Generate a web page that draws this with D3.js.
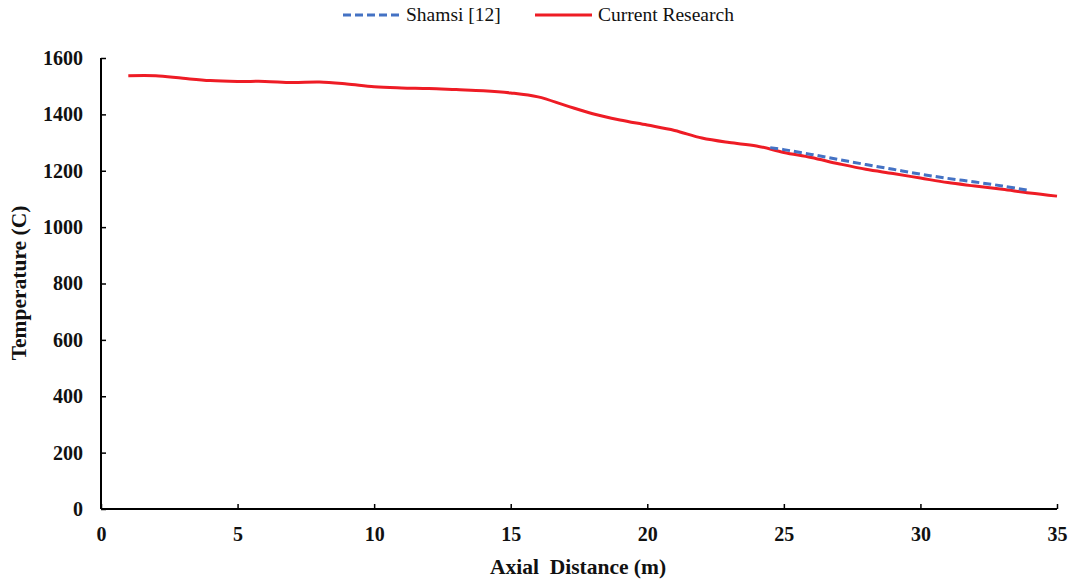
<!DOCTYPE html>
<html><head><meta charset="utf-8">
<script src="https://cdn.jsdelivr.net/npm/d3@7"></script>
<style>body{margin:0;background:#fff}svg{display:block}
svg text{font-family:"Liberation Serif","Times New Roman",serif;}</style>
</head><body>
<svg id="c" width="1071" height="580"></svg>
<script>
const currentX = [1,2,3,4,5,6,7,8,9,10,11,12,13,14,15,16,17,18,19,20,21,22,23,24,25,26,27,28,29,30,31,32,33,34,35];
const currentY = [1537,1537,1528,1520,1517,1517,1513,1515,1508,1498,1494,1492,1488,1484,1476,1462,1432,1402,1380,1362,1343,1316,1300,1288,1265,1247,1225,1205,1190,1174,1158,1146,1134,1121,1110];
const shamsiX = [24.5,25,26,27,28,29,30,31,32,33,34];
const shamsiY = [1282,1275,1258,1240,1222,1205,1188,1173,1160,1146,1130];
const xTicks = [0,5,10,15,20,25,30,35];
const yTicks = [0,200,400,600,800,1000,1200,1400,1600];
const seriesNames = ["Shamsi [12]","Current Research"];

const svg = d3.select("#c");
const font = "Liberation Serif";
const x = d3.scaleLinear().domain([0,35]).range([101,1057]);
const y = d3.scaleLinear().domain([0,1600]).range([509,58]);

const gx = svg.append("g").attr("transform","translate(0,509)")
  .call(d3.axisBottom(x).tickValues(xTicks).tickFormat(d3.format("d")).tickSize(-5).tickPadding(18));
const gy = svg.append("g").attr("transform","translate(101,0)")
  .call(d3.axisLeft(y).tickValues(yTicks).tickFormat(d3.format("d")).tickSize(-5).tickPadding(18));
[gx,gy].forEach(g=>{
  g.attr("font-family",null);
  g.select(".domain").attr("stroke","#000").attr("stroke-width",2);
  g.selectAll(".tick line").attr("stroke","#000").attr("stroke-width",1.5);
  g.selectAll("text").style("font-family",font).attr("font-weight","bold").attr("font-size",20).attr("fill","#111");
});
gx.select(".domain").attr("d","M101,0H1057");
gy.select(".domain").attr("d","M0,509V58");
gy.selectAll(".tick line").attr("x2",5);
gx.selectAll(".tick line").attr("y2",-5);

const line = d3.line().x(d=>x(d[0])).y(d=>y(d[1])).curve(d3.curveCatmullRom);
svg.append("path").datum(currentX.map((v,i)=>[v,currentY[i]]))
  .attr("d",line).attr("fill","none").attr("stroke","#ee1c25").attr("stroke-width",3);
svg.append("path").datum(shamsiX.map((v,i)=>[v,shamsiY[i]]))
  .attr("d",line).attr("fill","none").attr("stroke","#4472c4").attr("stroke-width",3).attr("stroke-dasharray","8,4");

svg.append("text").attr("x",578).attr("y",574).attr("text-anchor","middle")
  .style("font-family",font).attr("font-weight","bold").attr("font-size",21.5).attr("fill","#111")
  .attr("xml:space","preserve").text("Axial  Distance (m)");
svg.append("text").attr("transform","translate(26,283) rotate(-90)").attr("text-anchor","middle")
  .style("font-family",font).attr("font-weight","bold").attr("font-size",21.5).attr("fill","#111")
  .text("Temperature (C)");

// legend
const leg = svg.append("g");
leg.append("line").attr("x1",343).attr("x2",400).attr("y1",15).attr("y2",15)
  .attr("stroke","#4472c4").attr("stroke-width",3).attr("stroke-dasharray","8,4");
leg.append("text").attr("x",406).attr("y",21).style("font-family",font).attr("font-size",19.5).attr("fill","#111").text(seriesNames[0]);
leg.append("line").attr("x1",535).attr("x2",592).attr("y1",15).attr("y2",15)
  .attr("stroke","#ee1c25").attr("stroke-width",3);
leg.append("text").attr("x",598).attr("y",21).style("font-family",font).attr("font-size",19.5).attr("fill","#111").text(seriesNames[1]);
</script>
</body></html>
